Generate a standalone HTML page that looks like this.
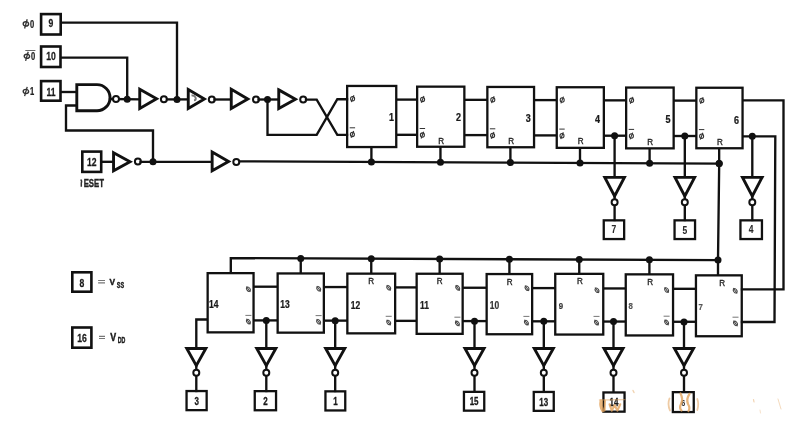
<!DOCTYPE html>
<html><head><meta charset="utf-8"><style>
html,body{margin:0;padding:0;background:#fff;}
svg{display:block;font-family:"Liberation Sans",sans-serif;will-change:transform;filter:blur(0.3px);}
</style></head><body>
<svg width="800" height="441" viewBox="0 0 800 441">
<rect width="800" height="441" fill="#fff"/>
<rect x="41.10" y="14.10" width="19.60" height="20.40" fill="none" stroke="#111" stroke-width="2.6"/>
<text transform="translate(51.00,27.20) scale(0.82,1)" font-size="10.5" font-weight="bold" text-anchor="middle" fill="#1a1a1a" stroke="#1a1a1a" stroke-width="0.25">9</text>
<rect x="41.10" y="46.50" width="19.40" height="20.50" fill="none" stroke="#111" stroke-width="2.6"/>
<text transform="translate(51.00,60.10) scale(0.82,1)" font-size="10.5" font-weight="bold" text-anchor="middle" fill="#1a1a1a" stroke="#1a1a1a" stroke-width="0.25">10</text>
<rect x="41.10" y="81.10" width="19.40" height="19.60" fill="none" stroke="#111" stroke-width="2.6"/>
<text transform="translate(51.00,95.50) scale(0.82,1)" font-size="10.5" font-weight="bold" text-anchor="middle" fill="#1a1a1a" stroke="#1a1a1a" stroke-width="0.25">11</text>
<rect x="82.30" y="151.60" width="18.90" height="20.30" fill="none" stroke="#111" stroke-width="2.6"/>
<text transform="translate(91.80,165.80) scale(0.82,1)" font-size="10.5" font-weight="bold" text-anchor="middle" fill="#1a1a1a" stroke="#1a1a1a" stroke-width="0.25">12</text>
<rect x="72.30" y="272.30" width="19.10" height="19.40" fill="none" stroke="#111" stroke-width="2.6"/>
<text transform="translate(82.00,286.60) scale(0.82,1)" font-size="10.5" font-weight="bold" text-anchor="middle" fill="#1a1a1a" stroke="#1a1a1a" stroke-width="0.25">8</text>
<rect x="72.30" y="327.50" width="19.10" height="20.20" fill="none" stroke="#111" stroke-width="2.6"/>
<text transform="translate(82.00,342.00) scale(0.82,1)" font-size="10.5" font-weight="bold" text-anchor="middle" fill="#1a1a1a" stroke="#1a1a1a" stroke-width="0.25">16</text>
<g transform="translate(25.90,23.90)"><ellipse cx="0" cy="0" rx="2.7" ry="2.1" fill="none" stroke="#333" stroke-width="1.4"/><path d="M1.3,-4.6 L-1.3,4.6" stroke="#333" stroke-width="1.3"/></g>
<text transform="translate(32.00,27.80) scale(0.72,1)" font-size="10.5" font-weight="bold" text-anchor="middle" fill="#222" stroke="#222" stroke-width="0.25">0</text>
<g transform="translate(26.90,56.30)"><ellipse cx="0" cy="0" rx="2.7" ry="2.1" fill="none" stroke="#333" stroke-width="1.4"/><path d="M1.3,-4.6 L-1.3,4.6" stroke="#333" stroke-width="1.3"/></g>
<text transform="translate(33.00,60.20) scale(0.72,1)" font-size="10.5" font-weight="bold" text-anchor="middle" fill="#222" stroke="#222" stroke-width="0.25">0</text>
<path d="M25.30,50.50 H35.40" stroke="#555" stroke-width="0.9"/>
<g transform="translate(25.90,91.50)"><ellipse cx="0" cy="0" rx="2.7" ry="2.1" fill="none" stroke="#333" stroke-width="1.4"/><path d="M1.3,-4.6 L-1.3,4.6" stroke="#333" stroke-width="1.3"/></g>
<text transform="translate(32.00,95.40) scale(0.72,1)" font-size="10.5" font-weight="bold" text-anchor="middle" fill="#222" stroke="#222" stroke-width="0.25">1</text>
<text transform="translate(104.00,187.00) scale(0.78,1)" font-size="10" font-weight="bold" text-anchor="end" fill="#222" stroke="#222" stroke-width="0.35">ESET</text>
<path d="M80.6,179.6 Q82.2,180.5 81.3,183 L81.3,186.8" fill="none" stroke="#333" stroke-width="1.5"/>
<path d="M98.1,280.5 H105 M98.1,282.9 H105" stroke="#777" stroke-width="1.2"/>
<text transform="translate(112.40,285.10) scale(0.85,1)" font-size="9.8" font-weight="bold" text-anchor="middle" fill="#1a1a1a" stroke="#1a1a1a" stroke-width="0.45">V</text>
<text transform="translate(120.40,287.50) scale(0.6,1)" font-size="9.2" font-weight="bold" text-anchor="middle" fill="#1a1a1a" stroke="#1a1a1a" stroke-width="0.4">SS</text>
<path d="M99,336.3 H105 M99,338.5 H105" stroke="#777" stroke-width="1.2"/>
<text transform="translate(113.30,340.80) scale(0.85,1)" font-size="10.4" font-weight="bold" text-anchor="middle" fill="#1a1a1a" stroke="#1a1a1a" stroke-width="0.45">V</text>
<text transform="translate(121.50,343.10) scale(0.6,1)" font-size="8.8" font-weight="bold" text-anchor="middle" fill="#1a1a1a" stroke="#1a1a1a" stroke-width="0.4">DD</text>
<path d="M62.00,22.60 L177.00,22.60 L177.00,99.50" fill="none" stroke="#111" stroke-width="2.35" stroke-linejoin="miter" stroke-linecap="square"/>
<path d="M62.00,57.60 L127.20,57.60 L127.20,99.50" fill="none" stroke="#111" stroke-width="2.35" stroke-linejoin="miter" stroke-linecap="square"/>
<path d="M62.00,92.00 L76.50,92.00" fill="none" stroke="#111" stroke-width="2.35" stroke-linejoin="miter" stroke-linecap="square"/>
<path d="M76.50,105.50 L66.00,105.50 L66.00,130.50 L153.00,130.50 L153.00,162.00" fill="none" stroke="#111" stroke-width="2.35" stroke-linejoin="miter" stroke-linecap="square"/>
<path d="M76.8,84.6 H97 A13.05,13.05 0 0 1 97,110.7 H76.8 Z" fill="#fff" stroke="#111" stroke-width="2.9"/>
<path d="M110.00,99.00 L140.00,99.30" fill="none" stroke="#111" stroke-width="2.35" stroke-linejoin="miter" stroke-linecap="square"/>
<circle cx="116.00" cy="98.90" r="3.0" fill="#fff" stroke="#111" stroke-width="2.0"/>
<circle cx="127.20" cy="99.30" r="3.5" fill="#111"/>
<path d="M139.75,89.20 L156.57,98.80 L139.75,108.40 Z" fill="#fff" stroke="#111" stroke-width="2.9" stroke-linejoin="miter" stroke-miterlimit="10"/>
<circle cx="163.90" cy="99.30" r="3.0" fill="#fff" stroke="#111" stroke-width="2.0"/>
<path d="M167.00,99.40 L188.00,99.40" fill="none" stroke="#111" stroke-width="2.35" stroke-linejoin="miter" stroke-linecap="square"/>
<circle cx="177.00" cy="99.40" r="3.5" fill="#111"/>
<path d="M188.25,89.54 L204.34,99.00 L188.25,108.46 Z" fill="#fff" stroke="#111" stroke-width="2.9" stroke-linejoin="miter" stroke-miterlimit="10"/>
<circle cx="211.80" cy="99.50" r="3.0" fill="#fff" stroke="#111" stroke-width="2.0"/>
<path d="M191.5,95.5 Q194.5,95 195.5,97.5 Q196.5,100 194,100.2" fill="none" stroke="#777" stroke-width="2"/>
<path d="M214.50,99.50 L231.00,99.50" fill="none" stroke="#111" stroke-width="2.35" stroke-linejoin="miter" stroke-linecap="square"/>
<path d="M231.25,89.31 L247.81,98.90 L231.25,108.49 Z" fill="#fff" stroke="#111" stroke-width="2.9" stroke-linejoin="miter" stroke-miterlimit="10"/>
<circle cx="256.00" cy="99.50" r="3.0" fill="#fff" stroke="#111" stroke-width="2.0"/>
<path d="M258.50,99.50 L278.00,99.50" fill="none" stroke="#111" stroke-width="2.35" stroke-linejoin="miter" stroke-linecap="square"/>
<circle cx="267.50" cy="99.50" r="3.5" fill="#111"/>
<path d="M278.75,89.88 L295.44,99.25 L278.75,108.62 Z" fill="#fff" stroke="#111" stroke-width="2.9" stroke-linejoin="miter" stroke-miterlimit="10"/>
<circle cx="303.20" cy="99.50" r="3.0" fill="#fff" stroke="#111" stroke-width="2.0"/>
<path d="M306.00,99.60 L316.70,99.60 L337.30,134.80 L347.00,134.80" fill="none" stroke="#111" stroke-width="2.35" stroke-linejoin="miter" stroke-linecap="square"/>
<path d="M267.50,99.50 L267.50,134.80 L316.70,134.80 L337.30,99.20 L347.00,99.20" fill="none" stroke="#111" stroke-width="2.35" stroke-linejoin="miter" stroke-linecap="square"/>
<path d="M102.50,161.80 L113.00,161.80" fill="none" stroke="#111" stroke-width="2.35" stroke-linejoin="miter" stroke-linecap="square"/>
<path d="M113.55,152.65 L129.99,161.70 L113.55,170.75 Z" fill="#fff" stroke="#111" stroke-width="2.9" stroke-linejoin="miter" stroke-miterlimit="10"/>
<circle cx="137.90" cy="161.50" r="3.0" fill="#fff" stroke="#111" stroke-width="2.0"/>
<path d="M140.50,161.80 L212.00,161.80" fill="none" stroke="#111" stroke-width="2.35" stroke-linejoin="miter" stroke-linecap="square"/>
<circle cx="153.00" cy="161.80" r="3.5" fill="#111"/>
<path d="M212.15,152.09 L228.56,161.40 L212.15,170.71 Z" fill="#fff" stroke="#111" stroke-width="2.9" stroke-linejoin="miter" stroke-miterlimit="10"/>
<circle cx="236.30" cy="161.90" r="3.0" fill="#fff" stroke="#111" stroke-width="2.0"/>
<path d="M240.00,161.30 L719.00,163.60" fill="none" stroke="#111" stroke-width="2.35" stroke-linejoin="miter" stroke-linecap="square"/>
<path d="M371.40,148.20 L371.40,161.93" fill="none" stroke="#111" stroke-width="2.35" stroke-linejoin="miter" stroke-linecap="square"/>
<circle cx="371.40" cy="161.93" r="3.5" fill="#111"/>
<path d="M440.45,147.90 L440.45,162.26" fill="none" stroke="#111" stroke-width="2.35" stroke-linejoin="miter" stroke-linecap="square"/>
<circle cx="440.45" cy="162.26" r="3.5" fill="#111"/>
<path d="M510.40,148.40 L510.40,162.60" fill="none" stroke="#111" stroke-width="2.35" stroke-linejoin="miter" stroke-linecap="square"/>
<circle cx="510.40" cy="162.60" r="3.5" fill="#111"/>
<path d="M580.00,149.00 L580.00,162.93" fill="none" stroke="#111" stroke-width="2.35" stroke-linejoin="miter" stroke-linecap="square"/>
<circle cx="580.00" cy="162.93" r="3.5" fill="#111"/>
<path d="M649.60,149.50 L649.60,163.27" fill="none" stroke="#111" stroke-width="2.35" stroke-linejoin="miter" stroke-linecap="square"/>
<circle cx="649.60" cy="163.27" r="3.5" fill="#111"/>
<path d="M719.15,149.40 L719.15,163.60" fill="none" stroke="#111" stroke-width="2.35" stroke-linejoin="miter" stroke-linecap="square"/>
<circle cx="719.15" cy="163.60" r="3.5" fill="#111"/>
<path d="M397.40,99.60 L416.00,99.60" fill="none" stroke="#111" stroke-width="2.35" stroke-linejoin="miter" stroke-linecap="square"/>
<path d="M397.40,134.80 L416.00,134.80" fill="none" stroke="#111" stroke-width="2.35" stroke-linejoin="miter" stroke-linecap="square"/>
<path d="M465.50,99.85 L486.20,99.85" fill="none" stroke="#111" stroke-width="2.35" stroke-linejoin="miter" stroke-linecap="square"/>
<path d="M465.50,135.10 L486.20,135.10" fill="none" stroke="#111" stroke-width="2.35" stroke-linejoin="miter" stroke-linecap="square"/>
<path d="M535.20,100.10 L555.60,100.10" fill="none" stroke="#111" stroke-width="2.35" stroke-linejoin="miter" stroke-linecap="square"/>
<path d="M535.20,135.40 L555.60,135.40" fill="none" stroke="#111" stroke-width="2.35" stroke-linejoin="miter" stroke-linecap="square"/>
<path d="M605.00,100.35 L625.00,100.35" fill="none" stroke="#111" stroke-width="2.35" stroke-linejoin="miter" stroke-linecap="square"/>
<path d="M605.00,135.70 L625.00,135.70" fill="none" stroke="#111" stroke-width="2.35" stroke-linejoin="miter" stroke-linecap="square"/>
<path d="M674.80,100.60 L695.20,100.60" fill="none" stroke="#111" stroke-width="2.35" stroke-linejoin="miter" stroke-linecap="square"/>
<path d="M674.80,136.00 L695.20,136.00" fill="none" stroke="#111" stroke-width="2.35" stroke-linejoin="miter" stroke-linecap="square"/>
<rect x="347.15" y="85.95" width="49.10" height="61.10" fill="none" stroke="#111" stroke-width="2.3"/>
<g transform="translate(352.60,98.70) rotate(0)"><ellipse cx="0" cy="0" rx="2.0" ry="2.2" fill="none" stroke="#333" stroke-width="1.1"/><path d="M1.3,-3.4 L-1.3,3.4" stroke="#333" stroke-width="1.1"/></g>
<g transform="translate(352.40,134.40) rotate(0)"><ellipse cx="0" cy="0" rx="2.0" ry="2.2" fill="none" stroke="#333" stroke-width="1.1"/><path d="M1.3,-3.4 L-1.3,3.4" stroke="#333" stroke-width="1.1"/></g>
<path d="M349.70,127.80 H355.10" stroke="#333" stroke-width="1"/>
<text transform="translate(391.50,120.90) scale(0.9,1)" font-size="10" font-weight="bold" text-anchor="middle" fill="#1a1a1a" stroke="#1a1a1a" stroke-width="0.25">1</text>
<rect x="417.15" y="86.65" width="47.20" height="60.10" fill="none" stroke="#111" stroke-width="2.3"/>
<g transform="translate(422.60,99.40) rotate(0)"><ellipse cx="0" cy="0" rx="2.0" ry="2.2" fill="none" stroke="#333" stroke-width="1.1"/><path d="M1.3,-3.4 L-1.3,3.4" stroke="#333" stroke-width="1.1"/></g>
<g transform="translate(422.40,135.10) rotate(0)"><ellipse cx="0" cy="0" rx="2.0" ry="2.2" fill="none" stroke="#333" stroke-width="1.1"/><path d="M1.3,-3.4 L-1.3,3.4" stroke="#333" stroke-width="1.1"/></g>
<path d="M419.70,128.50 H425.10" stroke="#333" stroke-width="1"/>
<text transform="translate(458.60,120.90) scale(0.9,1)" font-size="10" font-weight="bold" text-anchor="middle" fill="#1a1a1a" stroke="#1a1a1a" stroke-width="0.25">2</text>
<text transform="translate(441.15,143.70) scale(0.9,1)" font-size="9" font-weight="normal" text-anchor="middle" fill="#222" stroke="#222" stroke-width="0.35">R</text>
<rect x="487.35" y="86.95" width="46.70" height="60.30" fill="none" stroke="#111" stroke-width="2.3"/>
<g transform="translate(492.80,99.70) rotate(0)"><ellipse cx="0" cy="0" rx="2.0" ry="2.2" fill="none" stroke="#333" stroke-width="1.1"/><path d="M1.3,-3.4 L-1.3,3.4" stroke="#333" stroke-width="1.1"/></g>
<g transform="translate(492.60,135.40) rotate(0)"><ellipse cx="0" cy="0" rx="2.0" ry="2.2" fill="none" stroke="#333" stroke-width="1.1"/><path d="M1.3,-3.4 L-1.3,3.4" stroke="#333" stroke-width="1.1"/></g>
<path d="M489.90,128.80 H495.30" stroke="#333" stroke-width="1"/>
<text transform="translate(528.20,122.30) scale(0.9,1)" font-size="10" font-weight="bold" text-anchor="middle" fill="#1a1a1a" stroke="#1a1a1a" stroke-width="0.25">3</text>
<text transform="translate(511.10,144.00) scale(0.9,1)" font-size="9" font-weight="normal" text-anchor="middle" fill="#222" stroke="#222" stroke-width="0.35">R</text>
<rect x="556.75" y="87.25" width="47.10" height="60.60" fill="none" stroke="#111" stroke-width="2.3"/>
<g transform="translate(562.20,100.00) rotate(0)"><ellipse cx="0" cy="0" rx="2.0" ry="2.2" fill="none" stroke="#333" stroke-width="1.1"/><path d="M1.3,-3.4 L-1.3,3.4" stroke="#333" stroke-width="1.1"/></g>
<g transform="translate(562.00,135.70) rotate(0)"><ellipse cx="0" cy="0" rx="2.0" ry="2.2" fill="none" stroke="#333" stroke-width="1.1"/><path d="M1.3,-3.4 L-1.3,3.4" stroke="#333" stroke-width="1.1"/></g>
<path d="M559.30,129.10 H564.70" stroke="#333" stroke-width="1"/>
<text transform="translate(597.60,123.00) scale(0.9,1)" font-size="10" font-weight="bold" text-anchor="middle" fill="#1a1a1a" stroke="#1a1a1a" stroke-width="0.25">4</text>
<text transform="translate(580.70,144.30) scale(0.9,1)" font-size="9" font-weight="normal" text-anchor="middle" fill="#222" stroke="#222" stroke-width="0.35">R</text>
<rect x="626.15" y="87.55" width="47.50" height="60.80" fill="none" stroke="#111" stroke-width="2.3"/>
<g transform="translate(631.60,100.30) rotate(0)"><ellipse cx="0" cy="0" rx="2.0" ry="2.2" fill="none" stroke="#333" stroke-width="1.1"/><path d="M1.3,-3.4 L-1.3,3.4" stroke="#333" stroke-width="1.1"/></g>
<g transform="translate(631.40,136.00) rotate(0)"><ellipse cx="0" cy="0" rx="2.0" ry="2.2" fill="none" stroke="#333" stroke-width="1.1"/><path d="M1.3,-3.4 L-1.3,3.4" stroke="#333" stroke-width="1.1"/></g>
<path d="M628.70,129.40 H634.10" stroke="#333" stroke-width="1"/>
<text transform="translate(668.00,122.60) scale(0.9,1)" font-size="10" font-weight="bold" text-anchor="middle" fill="#1a1a1a" stroke="#1a1a1a" stroke-width="0.25">5</text>
<text transform="translate(650.30,144.60) scale(0.9,1)" font-size="9" font-weight="normal" text-anchor="middle" fill="#222" stroke="#222" stroke-width="0.35">R</text>
<rect x="696.35" y="87.75" width="46.20" height="60.50" fill="none" stroke="#111" stroke-width="2.3"/>
<g transform="translate(701.80,100.50) rotate(0)"><ellipse cx="0" cy="0" rx="2.0" ry="2.2" fill="none" stroke="#333" stroke-width="1.1"/><path d="M1.3,-3.4 L-1.3,3.4" stroke="#333" stroke-width="1.1"/></g>
<g transform="translate(701.60,136.20) rotate(0)"><ellipse cx="0" cy="0" rx="2.0" ry="2.2" fill="none" stroke="#333" stroke-width="1.1"/><path d="M1.3,-3.4 L-1.3,3.4" stroke="#333" stroke-width="1.1"/></g>
<path d="M698.90,129.60 H704.30" stroke="#333" stroke-width="1"/>
<text transform="translate(736.50,124.30) scale(0.9,1)" font-size="10" font-weight="bold" text-anchor="middle" fill="#1a1a1a" stroke="#1a1a1a" stroke-width="0.25">6</text>
<text transform="translate(719.85,144.80) scale(0.9,1)" font-size="9" font-weight="normal" text-anchor="middle" fill="#222" stroke="#222" stroke-width="0.35">R</text>
<circle cx="614.60" cy="135.80" r="3.5" fill="#111"/>
<path d="M614.60,135.80 L614.60,178.00" fill="none" stroke="#111" stroke-width="2.35" stroke-linejoin="miter" stroke-linecap="square"/>
<path d="M604.80,177.35 L624.40,177.35 L614.60,196.07 Z" fill="#fff" stroke="#111" stroke-width="2.9" stroke-linejoin="miter" stroke-miterlimit="10"/>
<path d="M614.60,194.00 L614.60,220.00" fill="none" stroke="#111" stroke-width="2.35" stroke-linejoin="miter" stroke-linecap="square"/>
<circle cx="614.60" cy="202.30" r="3.0" fill="#fff" stroke="#111" stroke-width="2.0"/>
<rect x="603.75" y="220.35" width="20.40" height="18.70" fill="none" stroke="#111" stroke-width="2.3"/>
<text transform="translate(613.95,233.20) scale(0.85,1)" font-size="10" font-weight="bold" text-anchor="middle" fill="#2a2a2a" stroke="#2a2a2a" stroke-width="0.1">7</text>
<circle cx="684.80" cy="136.10" r="3.5" fill="#111"/>
<path d="M684.80,136.10 L684.80,178.00" fill="none" stroke="#111" stroke-width="2.35" stroke-linejoin="miter" stroke-linecap="square"/>
<path d="M675.00,177.35 L694.60,177.35 L684.80,196.07 Z" fill="#fff" stroke="#111" stroke-width="2.9" stroke-linejoin="miter" stroke-miterlimit="10"/>
<path d="M684.80,194.00 L684.80,220.00" fill="none" stroke="#111" stroke-width="2.35" stroke-linejoin="miter" stroke-linecap="square"/>
<circle cx="684.80" cy="202.30" r="3.0" fill="#fff" stroke="#111" stroke-width="2.0"/>
<rect x="674.55" y="220.35" width="20.50" height="18.70" fill="none" stroke="#111" stroke-width="2.3"/>
<text transform="translate(684.80,234.10) scale(0.85,1)" font-size="10" font-weight="bold" text-anchor="middle" fill="#2a2a2a" stroke="#2a2a2a" stroke-width="0.1">5</text>
<circle cx="752.30" cy="136.30" r="3.5" fill="#111"/>
<path d="M752.30,136.30 L752.30,178.00" fill="none" stroke="#111" stroke-width="2.35" stroke-linejoin="miter" stroke-linecap="square"/>
<path d="M742.50,177.35 L762.10,177.35 L752.30,196.07 Z" fill="#fff" stroke="#111" stroke-width="2.9" stroke-linejoin="miter" stroke-miterlimit="10"/>
<path d="M752.30,194.00 L752.30,220.00" fill="none" stroke="#111" stroke-width="2.35" stroke-linejoin="miter" stroke-linecap="square"/>
<circle cx="752.30" cy="202.30" r="3.0" fill="#fff" stroke="#111" stroke-width="2.0"/>
<rect x="740.45" y="220.35" width="21.50" height="18.70" fill="none" stroke="#111" stroke-width="2.3"/>
<text transform="translate(751.20,233.10) scale(0.85,1)" font-size="10" font-weight="bold" text-anchor="middle" fill="#2a2a2a" stroke="#2a2a2a" stroke-width="0.1">4</text>
<path d="M744.00,100.30 L783.50,100.30 L783.50,289.30 L742.00,289.30" fill="none" stroke="#111" stroke-width="2.35" stroke-linejoin="miter" stroke-linecap="square"/>
<path d="M744.00,136.30 L775.30,136.30 L774.50,322.00 L742.00,322.00" fill="none" stroke="#111" stroke-width="2.35" stroke-linejoin="miter" stroke-linecap="square"/>
<path d="M719.20,163.60 L718.00,260.00 L718.00,274.50" fill="none" stroke="#111" stroke-width="2.35" stroke-linejoin="miter" stroke-linecap="square"/>
<circle cx="719.20" cy="163.60" r="3.5" fill="#111"/>
<circle cx="718.00" cy="260.10" r="3.5" fill="#111"/>
<path d="M230.80,272.50 L230.80,258.10 L717.50,260.10" fill="none" stroke="#111" stroke-width="2.35" stroke-linejoin="miter" stroke-linecap="square"/>
<path d="M300.75,272.30 L300.75,258.39" fill="none" stroke="#111" stroke-width="2.35" stroke-linejoin="miter" stroke-linecap="square"/>
<circle cx="300.75" cy="258.39" r="3.5" fill="#111"/>
<path d="M371.25,272.50 L371.25,258.68" fill="none" stroke="#111" stroke-width="2.35" stroke-linejoin="miter" stroke-linecap="square"/>
<circle cx="371.25" cy="258.68" r="3.5" fill="#111"/>
<path d="M439.65,272.60 L439.65,258.96" fill="none" stroke="#111" stroke-width="2.35" stroke-linejoin="miter" stroke-linecap="square"/>
<circle cx="439.65" cy="258.96" r="3.5" fill="#111"/>
<path d="M509.40,272.90 L509.40,259.24" fill="none" stroke="#111" stroke-width="2.35" stroke-linejoin="miter" stroke-linecap="square"/>
<circle cx="509.40" cy="259.24" r="3.5" fill="#111"/>
<path d="M579.25,272.70 L579.25,259.53" fill="none" stroke="#111" stroke-width="2.35" stroke-linejoin="miter" stroke-linecap="square"/>
<circle cx="579.25" cy="259.53" r="3.5" fill="#111"/>
<path d="M649.40,273.20 L649.40,259.82" fill="none" stroke="#111" stroke-width="2.35" stroke-linejoin="miter" stroke-linecap="square"/>
<circle cx="649.40" cy="259.82" r="3.5" fill="#111"/>
<path d="M254.70,286.70 L276.50,286.70" fill="none" stroke="#111" stroke-width="2.35" stroke-linejoin="miter" stroke-linecap="square"/>
<path d="M254.70,320.40 L276.50,320.40" fill="none" stroke="#111" stroke-width="2.35" stroke-linejoin="miter" stroke-linecap="square"/>
<path d="M325.00,287.05 L346.20,287.05" fill="none" stroke="#111" stroke-width="2.35" stroke-linejoin="miter" stroke-linecap="square"/>
<path d="M325.00,320.63 L346.20,320.63" fill="none" stroke="#111" stroke-width="2.35" stroke-linejoin="miter" stroke-linecap="square"/>
<path d="M396.30,287.40 L415.50,287.40" fill="none" stroke="#111" stroke-width="2.35" stroke-linejoin="miter" stroke-linecap="square"/>
<path d="M396.30,320.86 L415.50,320.86" fill="none" stroke="#111" stroke-width="2.35" stroke-linejoin="miter" stroke-linecap="square"/>
<path d="M463.80,287.75 L485.50,287.75" fill="none" stroke="#111" stroke-width="2.35" stroke-linejoin="miter" stroke-linecap="square"/>
<path d="M463.80,321.09 L485.50,321.09" fill="none" stroke="#111" stroke-width="2.35" stroke-linejoin="miter" stroke-linecap="square"/>
<path d="M533.30,288.10 L554.10,288.10" fill="none" stroke="#111" stroke-width="2.35" stroke-linejoin="miter" stroke-linecap="square"/>
<path d="M533.30,321.32 L554.10,321.32" fill="none" stroke="#111" stroke-width="2.35" stroke-linejoin="miter" stroke-linecap="square"/>
<path d="M604.40,288.45 L624.60,288.45" fill="none" stroke="#111" stroke-width="2.35" stroke-linejoin="miter" stroke-linecap="square"/>
<path d="M604.40,321.55 L624.60,321.55" fill="none" stroke="#111" stroke-width="2.35" stroke-linejoin="miter" stroke-linecap="square"/>
<path d="M674.20,288.80 L694.80,288.80" fill="none" stroke="#111" stroke-width="2.35" stroke-linejoin="miter" stroke-linecap="square"/>
<path d="M674.20,321.78 L694.80,321.78" fill="none" stroke="#111" stroke-width="2.35" stroke-linejoin="miter" stroke-linecap="square"/>
<rect x="207.65" y="273.15" width="45.90" height="59.20" fill="none" stroke="#111" stroke-width="2.3"/>
<text transform="translate(213.80,308.00) scale(0.85,1)" font-size="10" font-weight="bold" text-anchor="middle" fill="#1a1a1a" stroke="#1a1a1a" stroke-width="0.25">14</text>
<g transform="translate(248.40,289.20) rotate(-35)"><ellipse cx="0" cy="0" rx="1.6" ry="2.4" fill="none" stroke="#444" stroke-width="1.0"/><path d="M0,-3.4 L0,3.4" stroke="#444" stroke-width="1.0"/></g>
<g transform="translate(248.40,321.60) rotate(-35)"><ellipse cx="0" cy="0" rx="1.6" ry="2.4" fill="none" stroke="#444" stroke-width="1.0"/><path d="M0,-3.4 L0,3.4" stroke="#444" stroke-width="1.0"/></g>
<path d="M245.40,315.40 H251.40" stroke="#666" stroke-width="0.9"/>
<rect x="277.65" y="273.45" width="46.20" height="59.20" fill="none" stroke="#111" stroke-width="2.3"/>
<text transform="translate(285.00,308.30) scale(0.85,1)" font-size="10" font-weight="bold" text-anchor="middle" fill="#1a1a1a" stroke="#1a1a1a" stroke-width="0.25">13</text>
<g transform="translate(318.70,288.80) rotate(-35)"><ellipse cx="0" cy="0" rx="1.6" ry="2.4" fill="none" stroke="#444" stroke-width="1.0"/><path d="M0,-3.4 L0,3.4" stroke="#444" stroke-width="1.0"/></g>
<g transform="translate(318.60,321.80) rotate(-35)"><ellipse cx="0" cy="0" rx="1.6" ry="2.4" fill="none" stroke="#444" stroke-width="1.0"/><path d="M0,-3.4 L0,3.4" stroke="#444" stroke-width="1.0"/></g>
<path d="M315.60,315.60 H321.60" stroke="#666" stroke-width="0.9"/>
<rect x="347.35" y="273.65" width="47.80" height="59.70" fill="none" stroke="#111" stroke-width="2.3"/>
<text transform="translate(355.40,308.50) scale(0.85,1)" font-size="10" font-weight="bold" text-anchor="middle" fill="#1a1a1a" stroke="#1a1a1a" stroke-width="0.25">12</text>
<text transform="translate(371.25,284.10) scale(0.9,1)" font-size="9" font-weight="normal" text-anchor="middle" fill="#222" stroke="#222" stroke-width="0.35">R</text>
<g transform="translate(388.70,287.80) rotate(-35)"><ellipse cx="0" cy="0" rx="1.6" ry="2.4" fill="none" stroke="#444" stroke-width="1.0"/><path d="M0,-3.4 L0,3.4" stroke="#444" stroke-width="1.0"/></g>
<g transform="translate(388.70,322.50) rotate(-35)"><ellipse cx="0" cy="0" rx="1.6" ry="2.4" fill="none" stroke="#444" stroke-width="1.0"/><path d="M0,-3.4 L0,3.4" stroke="#444" stroke-width="1.0"/></g>
<path d="M385.70,316.30 H391.70" stroke="#666" stroke-width="0.9"/>
<rect x="416.65" y="273.75" width="46.00" height="60.10" fill="none" stroke="#111" stroke-width="2.3"/>
<text transform="translate(424.40,308.60) scale(0.85,1)" font-size="10" font-weight="bold" text-anchor="middle" fill="#222" stroke="#222" stroke-width="0.25">11</text>
<text transform="translate(439.60,284.20) scale(0.9,1)" font-size="9" font-weight="normal" text-anchor="middle" fill="#222" stroke="#222" stroke-width="0.35">R</text>
<g transform="translate(457.70,287.90) rotate(-35)"><ellipse cx="0" cy="0" rx="1.6" ry="2.4" fill="none" stroke="#444" stroke-width="1.0"/><path d="M0,-3.4 L0,3.4" stroke="#444" stroke-width="1.0"/></g>
<g transform="translate(457.40,323.40) rotate(-35)"><ellipse cx="0" cy="0" rx="1.6" ry="2.4" fill="none" stroke="#444" stroke-width="1.0"/><path d="M0,-3.4 L0,3.4" stroke="#444" stroke-width="1.0"/></g>
<path d="M454.40,317.20 H460.40" stroke="#666" stroke-width="0.9"/>
<rect x="486.65" y="274.05" width="45.50" height="60.20" fill="none" stroke="#111" stroke-width="2.3"/>
<text transform="translate(494.40,308.90) scale(0.85,1)" font-size="10" font-weight="bold" text-anchor="middle" fill="#333" stroke="#333" stroke-width="0.2">10</text>
<text transform="translate(509.60,284.50) scale(0.9,1)" font-size="9" font-weight="normal" text-anchor="middle" fill="#222" stroke="#222" stroke-width="0.35">R</text>
<g transform="translate(527.00,288.20) rotate(-35)"><ellipse cx="0" cy="0" rx="1.6" ry="2.4" fill="none" stroke="#444" stroke-width="1.0"/><path d="M0,-3.4 L0,3.4" stroke="#444" stroke-width="1.0"/></g>
<g transform="translate(526.40,322.60) rotate(-35)"><ellipse cx="0" cy="0" rx="1.6" ry="2.4" fill="none" stroke="#444" stroke-width="1.0"/><path d="M0,-3.4 L0,3.4" stroke="#444" stroke-width="1.0"/></g>
<path d="M523.40,316.40 H529.40" stroke="#666" stroke-width="0.9"/>
<rect x="555.25" y="273.85" width="48.00" height="60.70" fill="none" stroke="#111" stroke-width="2.3"/>
<text transform="translate(561.00,308.70) scale(0.85,1)" font-size="9.2" font-weight="bold" text-anchor="middle" fill="#333" stroke="#333" stroke-width="0.2">9</text>
<text transform="translate(580.00,284.30) scale(0.9,1)" font-size="9" font-weight="normal" text-anchor="middle" fill="#222" stroke="#222" stroke-width="0.35">R</text>
<g transform="translate(597.00,290.30) rotate(-35)"><ellipse cx="0" cy="0" rx="1.6" ry="2.4" fill="none" stroke="#444" stroke-width="1.0"/><path d="M0,-3.4 L0,3.4" stroke="#444" stroke-width="1.0"/></g>
<g transform="translate(596.50,322.60) rotate(-35)"><ellipse cx="0" cy="0" rx="1.6" ry="2.4" fill="none" stroke="#444" stroke-width="1.0"/><path d="M0,-3.4 L0,3.4" stroke="#444" stroke-width="1.0"/></g>
<path d="M593.50,316.40 H599.50" stroke="#666" stroke-width="0.9"/>
<rect x="625.75" y="274.35" width="47.30" height="61.10" fill="none" stroke="#111" stroke-width="2.3"/>
<text transform="translate(630.80,309.20) scale(0.85,1)" font-size="9.2" font-weight="bold" text-anchor="middle" fill="#555" stroke="#555" stroke-width="0.2">8</text>
<text transform="translate(650.10,284.80) scale(0.9,1)" font-size="9" font-weight="normal" text-anchor="middle" fill="#222" stroke="#222" stroke-width="0.35">R</text>
<g transform="translate(666.60,290.00) rotate(-35)"><ellipse cx="0" cy="0" rx="1.6" ry="2.4" fill="none" stroke="#444" stroke-width="1.0"/><path d="M0,-3.4 L0,3.4" stroke="#444" stroke-width="1.0"/></g>
<g transform="translate(666.60,322.40) rotate(-35)"><ellipse cx="0" cy="0" rx="1.6" ry="2.4" fill="none" stroke="#444" stroke-width="1.0"/><path d="M0,-3.4 L0,3.4" stroke="#444" stroke-width="1.0"/></g>
<path d="M663.60,316.20 H669.60" stroke="#666" stroke-width="0.9"/>
<rect x="695.95" y="275.35" width="45.80" height="60.90" fill="none" stroke="#111" stroke-width="2.3"/>
<text transform="translate(700.80,310.20) scale(0.85,1)" font-size="9.2" font-weight="bold" text-anchor="middle" fill="#555" stroke="#555" stroke-width="0.2">7</text>
<text transform="translate(722.10,285.80) scale(0.9,1)" font-size="9" font-weight="normal" text-anchor="middle" fill="#222" stroke="#222" stroke-width="0.35">R</text>
<g transform="translate(735.20,290.80) rotate(-35)"><ellipse cx="0" cy="0" rx="1.6" ry="2.4" fill="none" stroke="#444" stroke-width="1.0"/><path d="M0,-3.4 L0,3.4" stroke="#444" stroke-width="1.0"/></g>
<g transform="translate(735.50,323.40) rotate(-35)"><ellipse cx="0" cy="0" rx="1.6" ry="2.4" fill="none" stroke="#444" stroke-width="1.0"/><path d="M0,-3.4 L0,3.4" stroke="#444" stroke-width="1.0"/></g>
<path d="M732.50,317.20 H738.50" stroke="#666" stroke-width="0.9"/>
<path d="M206.50,319.50 L196.30,319.50 L196.30,348.00" fill="none" stroke="#111" stroke-width="2.35" stroke-linejoin="miter" stroke-linecap="square"/>
<path d="M186.77,348.55 L205.83,348.55 L196.30,365.62 Z" fill="#fff" stroke="#111" stroke-width="2.9" stroke-linejoin="miter" stroke-miterlimit="10"/>
<path d="M196.30,365.00 L196.30,391.00" fill="none" stroke="#111" stroke-width="2.35" stroke-linejoin="miter" stroke-linecap="square"/>
<circle cx="196.30" cy="372.80" r="3.0" fill="#fff" stroke="#111" stroke-width="2.0"/>
<rect x="186.55" y="391.05" width="20.10" height="19.10" fill="none" stroke="#111" stroke-width="2.3"/>
<text transform="translate(196.60,404.80) scale(0.8,1)" font-size="10" font-weight="bold" text-anchor="middle" fill="#1a1a1a" stroke="#1a1a1a" stroke-width="0.3">3</text>
<circle cx="266.30" cy="320.40" r="3.5" fill="#111"/>
<path d="M266.30,320.40 L266.30,348.50" fill="none" stroke="#111" stroke-width="2.35" stroke-linejoin="miter" stroke-linecap="square"/>
<path d="M256.77,348.55 L275.83,348.55 L266.30,365.62 Z" fill="#fff" stroke="#111" stroke-width="2.9" stroke-linejoin="miter" stroke-miterlimit="10"/>
<path d="M266.30,365.00 L266.30,391.00" fill="none" stroke="#111" stroke-width="2.35" stroke-linejoin="miter" stroke-linecap="square"/>
<circle cx="266.30" cy="372.80" r="3.0" fill="#fff" stroke="#111" stroke-width="2.0"/>
<rect x="254.75" y="391.15" width="21.30" height="19.10" fill="none" stroke="#111" stroke-width="2.3"/>
<text transform="translate(265.40,404.90) scale(0.8,1)" font-size="10" font-weight="bold" text-anchor="middle" fill="#1a1a1a" stroke="#1a1a1a" stroke-width="0.3">2</text>
<circle cx="335.20" cy="320.80" r="3.5" fill="#111"/>
<path d="M335.20,320.80 L335.20,348.50" fill="none" stroke="#111" stroke-width="2.35" stroke-linejoin="miter" stroke-linecap="square"/>
<path d="M325.67,348.55 L344.73,348.55 L335.20,365.62 Z" fill="#fff" stroke="#111" stroke-width="2.9" stroke-linejoin="miter" stroke-miterlimit="10"/>
<path d="M335.20,365.00 L335.20,391.00" fill="none" stroke="#111" stroke-width="2.35" stroke-linejoin="miter" stroke-linecap="square"/>
<circle cx="335.20" cy="372.80" r="3.0" fill="#fff" stroke="#111" stroke-width="2.0"/>
<rect x="325.45" y="391.35" width="19.80" height="19.10" fill="none" stroke="#111" stroke-width="2.3"/>
<text transform="translate(335.35,405.10) scale(0.8,1)" font-size="10" font-weight="bold" text-anchor="middle" fill="#1a1a1a" stroke="#1a1a1a" stroke-width="0.3">1</text>
<circle cx="474.50" cy="321.20" r="3.5" fill="#111"/>
<path d="M474.50,321.20 L474.50,348.50" fill="none" stroke="#111" stroke-width="2.35" stroke-linejoin="miter" stroke-linecap="square"/>
<path d="M464.97,348.55 L484.03,348.55 L474.50,365.62 Z" fill="#fff" stroke="#111" stroke-width="2.9" stroke-linejoin="miter" stroke-miterlimit="10"/>
<path d="M474.50,365.00 L474.50,391.00" fill="none" stroke="#111" stroke-width="2.35" stroke-linejoin="miter" stroke-linecap="square"/>
<circle cx="474.50" cy="372.80" r="3.0" fill="#fff" stroke="#111" stroke-width="2.0"/>
<rect x="463.95" y="391.85" width="20.30" height="18.80" fill="none" stroke="#111" stroke-width="2.3"/>
<text transform="translate(474.10,405.45) scale(0.8,1)" font-size="10" font-weight="bold" text-anchor="middle" fill="#1a1a1a" stroke="#1a1a1a" stroke-width="0.3">15</text>
<circle cx="543.80" cy="321.30" r="3.5" fill="#111"/>
<path d="M543.80,321.30 L543.80,348.50" fill="none" stroke="#111" stroke-width="2.35" stroke-linejoin="miter" stroke-linecap="square"/>
<path d="M534.27,348.55 L553.33,348.55 L543.80,365.62 Z" fill="#fff" stroke="#111" stroke-width="2.9" stroke-linejoin="miter" stroke-miterlimit="10"/>
<path d="M543.80,365.00 L543.80,391.00" fill="none" stroke="#111" stroke-width="2.35" stroke-linejoin="miter" stroke-linecap="square"/>
<circle cx="543.80" cy="372.80" r="3.0" fill="#fff" stroke="#111" stroke-width="2.0"/>
<rect x="533.75" y="391.95" width="20.00" height="18.90" fill="none" stroke="#111" stroke-width="2.3"/>
<text transform="translate(543.75,405.60) scale(0.8,1)" font-size="10" font-weight="bold" text-anchor="middle" fill="#1a1a1a" stroke="#1a1a1a" stroke-width="0.3">13</text>
<circle cx="613.50" cy="321.60" r="3.5" fill="#111"/>
<path d="M613.50,321.60 L613.50,348.50" fill="none" stroke="#111" stroke-width="2.35" stroke-linejoin="miter" stroke-linecap="square"/>
<path d="M603.97,348.55 L623.03,348.55 L613.50,365.62 Z" fill="#fff" stroke="#111" stroke-width="2.9" stroke-linejoin="miter" stroke-miterlimit="10"/>
<path d="M613.50,365.00 L613.50,391.00" fill="none" stroke="#111" stroke-width="2.35" stroke-linejoin="miter" stroke-linecap="square"/>
<circle cx="613.50" cy="372.80" r="3.0" fill="#fff" stroke="#111" stroke-width="2.0"/>
<rect x="603.45" y="392.45" width="21.10" height="19.20" fill="none" stroke="#111" stroke-width="2.3"/>
<text transform="translate(614.00,406.25) scale(0.8,1)" font-size="10" font-weight="bold" text-anchor="middle" fill="#1a1a1a" stroke="#1a1a1a" stroke-width="0.3">14</text>
<circle cx="684.00" cy="322.00" r="3.5" fill="#111"/>
<path d="M684.00,322.00 L684.00,348.50" fill="none" stroke="#111" stroke-width="2.35" stroke-linejoin="miter" stroke-linecap="square"/>
<path d="M674.47,348.55 L693.53,348.55 L684.00,365.62 Z" fill="#fff" stroke="#111" stroke-width="2.9" stroke-linejoin="miter" stroke-miterlimit="10"/>
<path d="M684.00,365.00 L684.00,391.00" fill="none" stroke="#111" stroke-width="2.35" stroke-linejoin="miter" stroke-linecap="square"/>
<circle cx="684.00" cy="372.80" r="3.0" fill="#fff" stroke="#111" stroke-width="2.0"/>
<rect x="672.85" y="392.15" width="20.90" height="19.90" fill="none" stroke="#111" stroke-width="2.3"/>
<text transform="translate(683.30,406.30) scale(0.8,1)" font-size="9" font-weight="bold" text-anchor="middle" fill="#333">6</text>
<g fill="none" stroke="#e3a35c" stroke-linecap="round" stroke-linejoin="round" opacity="0.8"><path d="M599.5,400 L625,399.6" stroke-width="1.4" opacity="0.6"/><path d="M601.2,401 Q600.2,406 602.8,410.5" stroke-width="3.4"/><path d="M605,400.5 L604.6,410.5" stroke-width="2"/><path d="M609.6,404.3 L611.8,410.6 L614.6,405.2 L617.4,410.6 L620.2,404.3" stroke-width="2.2"/><path d="M669.5,398.5 Q667.2,404 670,410.5" stroke-width="1.8" opacity="0.7"/><path d="M697.3,399 Q699.2,404 697.3,410" stroke-width="1.8" opacity="0.7"/><path d="M680.5,393.5 Q683.5,399 681,404 Q679,408 681.5,410.5" stroke-width="2.2"/><path d="M689.5,394 Q686,399 688,404 Q690.5,408 688.5,411" stroke-width="2.2"/><path d="M753.5,399.5 L754,402" stroke-width="1.2" opacity="0.6"/><path d="M778,399 L781,409" stroke-width="1" opacity="0.5"/><path d="M760,410 L760.5,413" stroke-width="1" opacity="0.4"/><path d="M633,390.5 L634,392.5" stroke-width="1.4" opacity="0.6"/></g>
</svg>
</body></html>
